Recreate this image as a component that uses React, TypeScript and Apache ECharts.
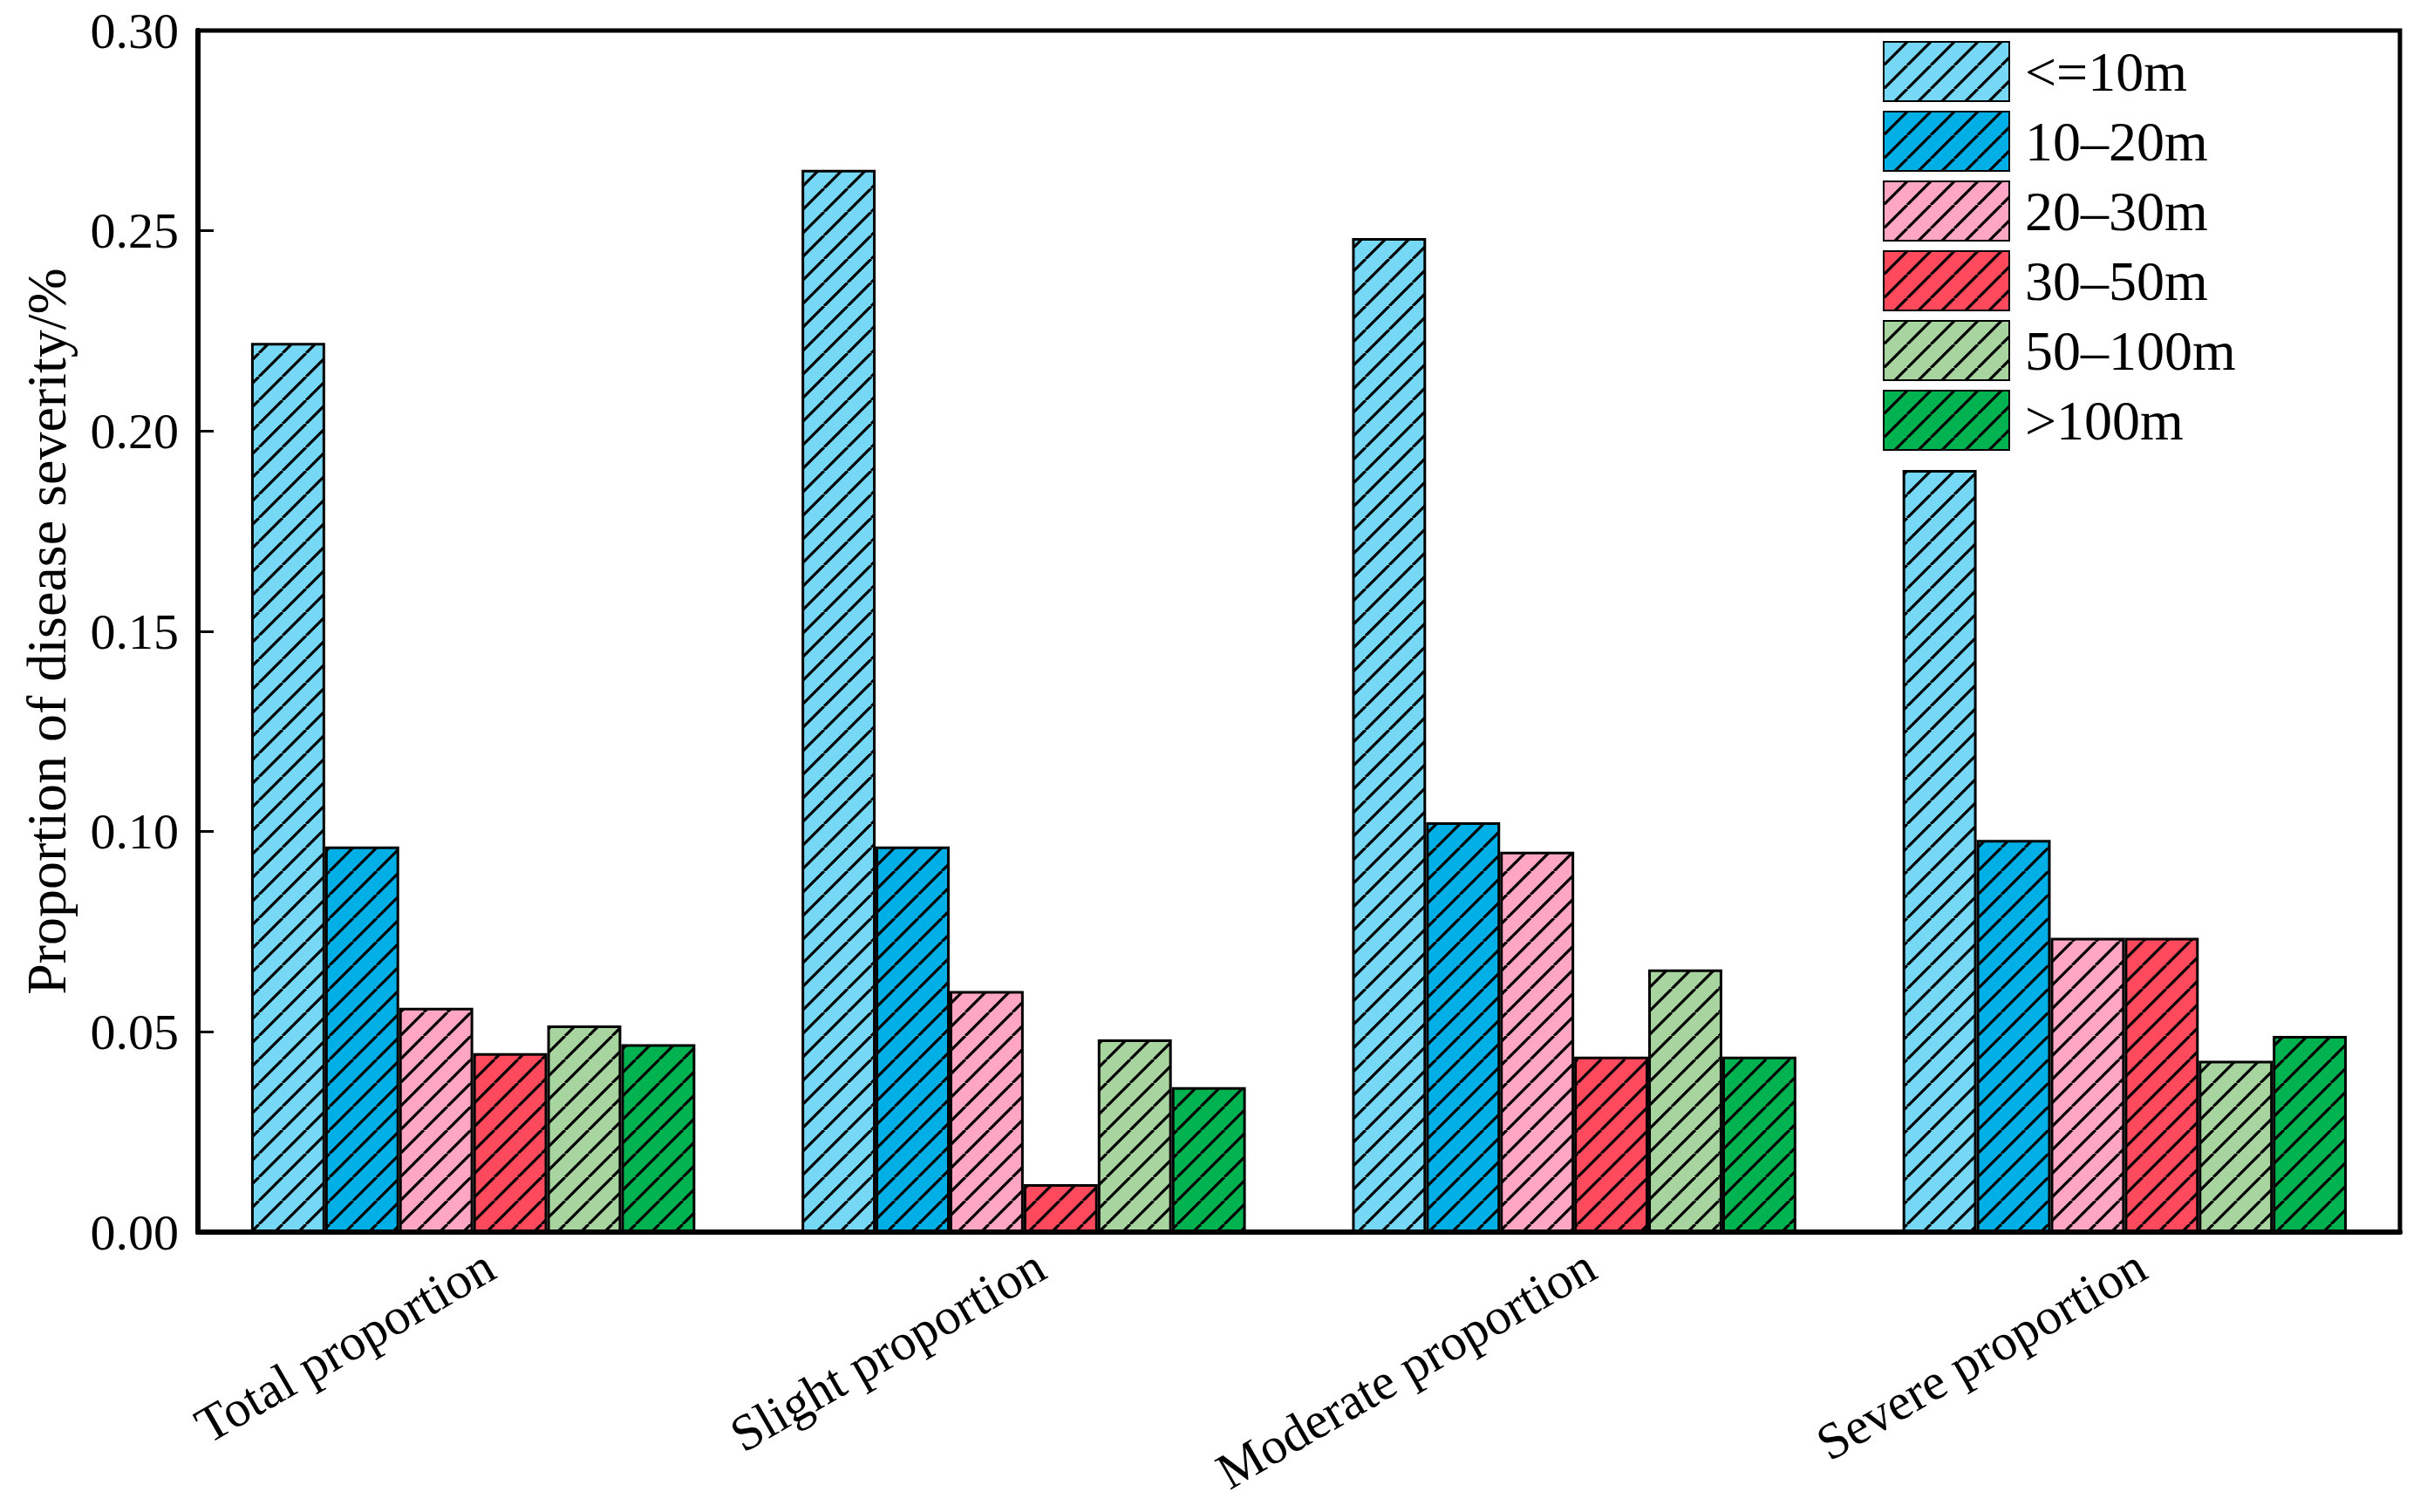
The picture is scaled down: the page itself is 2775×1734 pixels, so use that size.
import React, { useEffect, useRef } from 'react';
import * as echarts from 'echarts';

const categories = ['Total proportion', 'Slight proportion', 'Moderate proportion', 'Severe proportion'];
const seriesNames = ['<=10m', '10–20m', '20–30m', '30–50m', '50–100m', '>100m'];
const le10m = [0.222, 0.2652, 0.2482, 0.1903];
const m10to20 = [0.0963, 0.0963, 0.1023, 0.0979];
const m20to30 = [0.056, 0.0602, 0.095, 0.0735];
const m30to50 = [0.0447, 0.012, 0.0438, 0.0735];
const m50to100 = [0.0516, 0.0481, 0.0656, 0.0428];
const gt100m = [0.0469, 0.0362, 0.0438, 0.049];
const seriesValues = [le10m, m10to20, m20to30, m30to50, m50to100, gt100m];
const seriesColors = ['#76D8F4', '#00AFE6', '#FFA6C4', '#FE4A5C', '#A8D4A0', '#00B250'];
const yMin = 0;
const yMax = 0.3;
const yStep = 0.05;

const FONT = '"Liberation Serif", "Times New Roman", serif';

function hatch(color: string) {
  const s = 27;
  const c = document.createElement('canvas');
  c.width = s;
  c.height = s;
  const ctx = c.getContext('2d')!;
  ctx.fillStyle = color;
  ctx.fillRect(0, 0, s, s);
  ctx.strokeStyle = '#000';
  ctx.lineWidth = 3.2;
  ctx.beginPath();
  for (const o of [-s, 0, s]) {
    ctx.moveTo(o, s);
    ctx.lineTo(o + s, 0);
  }
  ctx.stroke();
  return { image: c, repeat: 'repeat', imageWidth: s, imageHeight: s };
}

export default function App() {
  const ref = useRef<HTMLDivElement>(null);
  useEffect(() => {
    if (!ref.current) return;
    const chart = echarts.init(ref.current, null, { renderer: 'svg' });
    chart.setOption({
      animation: false,
      backgroundColor: '#fff',
      grid: {
        left: 227,
        right: 23,
        top: 35,
        bottom: 321,
        show: true,
        borderColor: '#000',
        borderWidth: 5,
        backgroundColor: 'transparent',
      },
      legend: {
        orient: 'vertical',
        left: 2154,
        top: 42,
        itemWidth: 144,
        itemHeight: 68,
        itemGap: 10,
        icon: 'rect',
        data: seriesNames,
        textStyle: {
          fontFamily: FONT,
          fontSize: 64,
          lineHeight: 64,
          color: '#000',
          padding: [0, 0, 0, 13],
        },
      },
      xAxis: {
        type: 'category',
        data: categories,
        axisLine: { show: true, lineStyle: { color: '#000', width: 6 } },
        axisTick: { show: false },
        axisLabel: {
          rotate: 30,
          margin: 45,
          fontFamily: FONT,
          fontSize: 59,
          color: '#000',
          padding: [0, -22, 0, 0],
        },
      },
      yAxis: {
        type: 'value',
        min: yMin,
        max: yMax,
        interval: yStep,
        name: 'Proportion of disease severity/%',
        nameLocation: 'middle',
        nameGap: 142,
        nameTextStyle: { fontFamily: FONT, fontSize: 64, color: '#000' },
        axisLine: { show: true, lineStyle: { color: '#000', width: 6 } },
        axisTick: { show: true, inside: true, length: 18, lineStyle: { color: '#000', width: 3 } },
        axisLabel: {
          margin: 22,
          fontFamily: FONT,
          fontSize: 58,
          color: '#000',
          formatter: (v: number) => v.toFixed(2),
        },
        splitLine: { show: false },
      },
      series: seriesNames.map((name, i) => ({
        name,
        type: 'bar',
        data: seriesValues[i],
        barGap: '0%',
        barCategoryGap: '19.3%',
        itemStyle: {
          color: hatch(seriesColors[i]),
          borderColor: '#000',
          borderWidth: 3,
        },
        emphasis: { disabled: true },
      })),
    });
    return () => chart.dispose();
  }, []);
  return (
    <div
      ref={ref}
      style={{ position: 'absolute', left: 0, top: 0, width: 2775, height: 1734, background: '#fff' }}
    />
  );
}
